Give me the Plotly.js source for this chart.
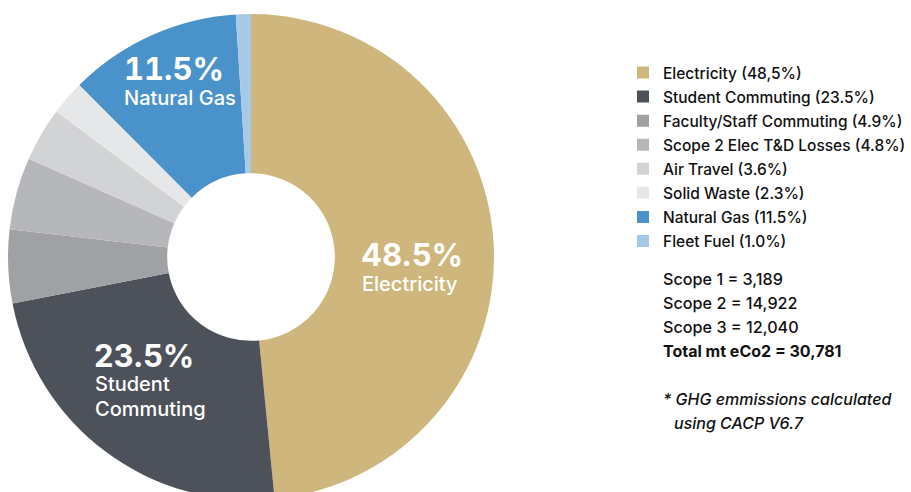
<!DOCTYPE html>
<html>
<head>
<meta charset="utf-8">
<script src="https://cdn.plot.ly/plotly-3.0.1.min.js"></script>
<style>
html,body{margin:0;padding:0;overflow:hidden;background:#fff;}
#chart{width:911px;height:500px;}
</style>
</head>
<body>
<div id="chart"></div>
<script>
const categories = ["Electricity", "Student Commuting", "Faculty/Staff Commuting", "Scope 2 Elec T&D Losses", "Air Travel", "Solid Waste", "Natural Gas", "Fleet Fuel"];
const shares = [48.5, 23.5, 4.9, 4.8, 3.6, 2.3, 11.5, 1.0];
const legendLabels = ["Electricity (48,5%)", "Student Commuting (23.5%)", "Faculty/Staff Commuting (4.9%)", "Scope 2 Elec T&D Losses (4.8%)", "Air Travel (3.6%)", "Solid Waste (2.3%)", "Natural Gas (11.5%)", "Fleet Fuel (1.0%)"];
const colors = ["#cfb67d", "#4d515a", "#9fa1a5", "#b6b7ba", "#d2d3d5", "#e6e7e8", "#4a93ca", "#a5c9e7"];
const scopeLines = ["Scope 1 = 3,189", "Scope 2 = 14,922", "Scope 3 = 12,040"];
const totalLine = "Total mt eCo2 = 30,781";
const noteLines = ["* GHG emmissions calculated", "  using CACP V6.7"];

const W = 911, H = 500;
const FONT = "Inter, Liberation Sans, Arial, sans-serif";
const px = x => x / W;
const py = y => 1 - y / H;

const trace = {
  type: "pie",
  labels: legendLabels.map(l => '<span style="font-size:15.5px">' + l + '</span>'),
  values: shares,
  sort: false,
  direction: "clockwise",
  rotation: 0,
  hole: 0.345,
  marker: {colors: colors, line: {width: 0}},
  textinfo: "none",
  hoverinfo: "none",
  domain: {x: [px(8), px(494)], y: [0, 486 / H]}
};

const ann = [];
function addText(text, x, y, size, opts) {
  ann.push(Object.assign({
    text: text, x: px(x), y: py(y), xref: "paper", yref: "paper",
    xanchor: "left", yanchor: "middle", align: "left", showarrow: false,
    font: {family: FONT, size: size, color: "#ffffff", weight: 500}
  }, opts || {}));
}
const tab = s => '<span style="font-variant-numeric:tabular-nums">' + s + '</span>';
// slice labels
addText("<b>" + shares[0].toFixed(1) + "%</b>", 359, 254, 31);
addText(categories[0], 360, 284, 20);
addText("<b>" + shares[1].toFixed(1) + "%</b>", 92, 355, 31);
addText("Student", 93, 384, 20);
addText("Commuting", 93, 409, 20);
addText("<b>" + tab(shares[6].toFixed(1) + "%") + "</b>", 122, 68, 31);
addText(categories[6], 122, 98, 20);

// right side text
const dark = {family: FONT, size: 16.2, color: "#111111", weight: 500};
scopeLines.forEach((t, i) => addText(t, 661, 279 + 24 * i, 16.2, {font: dark}));
addText("<b>" + totalLine + "</b>", 661, 351, 16, {font: Object.assign({}, dark, {size: 16})});
addText("<i>" + noteLines[0] + "</i>", 661, 399, 16, {font: Object.assign({}, dark, {size: 16})});
addText("<i>" + noteLines[1].trim() + "</i>", 672, 423, 16, {font: Object.assign({}, dark, {size: 16})});

const layout = {
  width: W, height: H,
  margin: {l: 0, r: 0, t: 0, b: 0},
  paper_bgcolor: "#ffffff",
  showlegend: true,
  legend: {
    x: px(623), y: py(55.5), xanchor: "left", yanchor: "top",
    font: {family: FONT, size: 16.2, color: "#111111", weight: 500},
    itemclick: false, tracegroupgap: 0
  },
  annotations: ann
};

Plotly.newPlot("chart", [trace], layout, {displayModeBar: false, staticPlot: true});
</script>
</body>
</html>
